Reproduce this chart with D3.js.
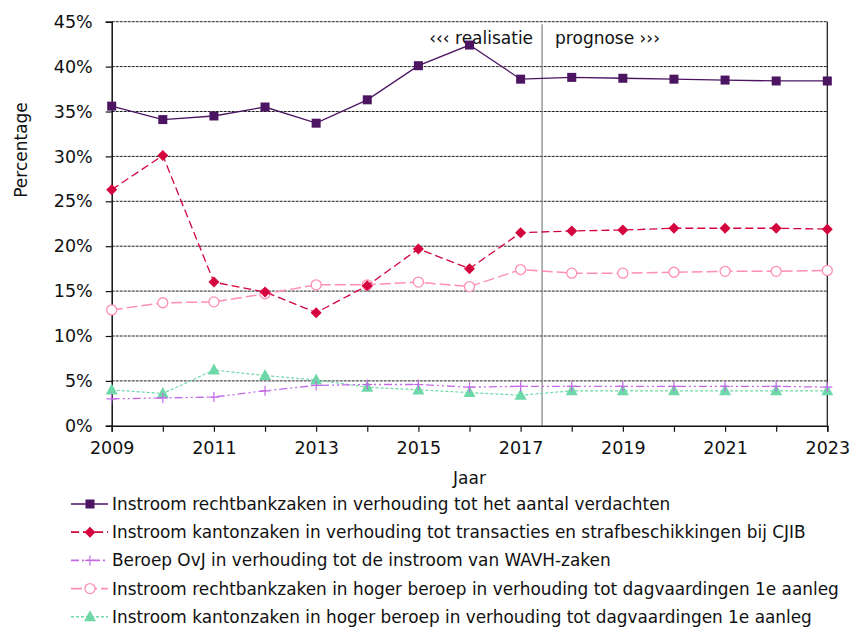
<!DOCTYPE html>
<html>
<head>
<meta charset="utf-8">
<script src="https://cdn.jsdelivr.net/npm/d3@7"></script>
<style>
  body { margin: 0; background: #fff; }
  svg { font-family: "DejaVu Sans", Verdana, sans-serif; }
</style>
</head>
<body>
<svg id="chart" width="852" height="629"></svg>
<script>
// data
const years = d3.range(2009, 2024);
const yTicks = [0, 5, 10, 15, 20, 25, 30, 35, 40, 45];
const xLabelYears = [2009, 2011, 2013, 2015, 2017, 2019, 2021, 2023];

const rechtbank = [35.6, 34.1, 34.5, 35.5, 33.7, 36.3, 40.1, 42.4, 38.6, 38.8, 38.7, 38.6, 38.5, 38.4, 38.4];
const kanton = [26.3, 30.1, 16.0, 14.9, 12.6, 15.6, 19.7, 17.5, 21.5, 21.7, 21.8, 22.0, 22.0, 22.0, 21.9];
const beroepOvj = [3.0, 3.1, 3.2, 3.9, 4.5, 4.6, 4.6, 4.3, 4.4, 4.4, 4.4, 4.4, 4.4, 4.4, 4.3];
const rbHoger = [12.9, 13.7, 13.8, 14.7, 15.7, 15.7, 16.0, 15.5, 17.4, 17.0, 17.0, 17.1, 17.2, 17.2, 17.3];
const ktHoger = [4.0, 3.6, 6.2, 5.6, 5.1, 4.3, 4.0, 3.7, 3.4, 3.9, 3.9, 3.9, 3.9, 3.9, 3.9];

const seriesNames = [
  'Instroom rechtbankzaken in verhouding tot het aantal verdachten',
  'Instroom kantonzaken in verhouding tot transacties en strafbeschikkingen bij CJIB',
  'Beroep OvJ in verhouding tot de instroom van WAVH-zaken',
  'Instroom rechtbankzaken in hoger beroep in verhouding tot dagvaardingen 1e aanleg',
  'Instroom kantonzaken in hoger beroep in verhouding tot dagvaardingen 1e aanleg'
];
const splitYear = 2017.42;

const series = [
  { name: seriesNames[0], values: rechtbank, color: '#4b1562', dash: null, width: 1.3, marker: 'square' },
  { name: seriesNames[1], values: kanton, color: '#d4043f', dash: '8,4', width: 1.3, marker: 'diamond' },
  { name: seriesNames[2], values: beroepOvj, color: '#c36ae6', dash: '8,3,2,3,2,3', width: 1.3, marker: 'plus' },
  { name: seriesNames[3], values: rbHoger, color: '#ff8fb2', dash: '11,4', width: 1.5, marker: 'circle' },
  { name: seriesNames[4], values: ktHoger, color: '#6fd8a9', dash: '3,2', width: 1.2, marker: 'triangle' }
];

const svg = d3.select('#chart');
const plotLeft = 111.7, plotRight = 827.3, plotTop = 21.7, plotBottom = 425.8;

const x = d3.scaleLinear().domain([2009, 2023]).range([plotLeft, plotRight]);
const y = d3.scaleLinear().domain([0, 45]).range([plotBottom, plotTop]);

// gridlines
svg.append('g')
  .selectAll('line')
  .data(yTicks.filter(d => d > 0))
  .join('line')
  .attr('x1', plotLeft).attr('x2', plotRight)
  .attr('y1', d => y(d)).attr('y2', d => y(d))
  .attr('stroke', '#222')
  .attr('stroke-width', 1)
  .attr('stroke-dasharray', '3,1');

// right frame line
svg.append('line')
  .attr('x1', plotRight).attr('x2', plotRight)
  .attr('y1', plotTop).attr('y2', plotBottom)
  .attr('stroke', '#111').attr('stroke-width', 1.2);

// split line realisatie / prognose
svg.append('line')
  .attr('x1', x(splitYear)).attr('x2', x(splitYear))
  .attr('y1', plotTop + 2.5).attr('y2', plotBottom)
  .attr('stroke', '#808080').attr('stroke-width', 1.2);

svg.append('text')
  .attr('x', x(splitYear) - 9).attr('y', 44)
  .attr('text-anchor', 'end')
  .attr('font-size', 17)
  .attr('fill', '#111')
  .text('\u2039\u2039\u2039 realisatie');

svg.append('text')
  .attr('x', x(splitYear) + 13).attr('y', 44)
  .attr('font-size', 17)
  .attr('fill', '#111')
  .text('prognose \u203a\u203a\u203a');

// axes
const yAxis = d3.axisLeft(y)
  .tickValues(yTicks)
  .tickFormat(d => d + '%')
  .tickSize(6)
  .tickPadding(13);

const gy = svg.append('g')
  .attr('transform', `translate(${plotLeft},0)`)
  .call(yAxis);

const xAxis = d3.axisBottom(x)
  .tickValues(years)
  .tickFormat(d => xLabelYears.includes(d) ? d : '')
  .tickSize(6)
  .tickPadding(10);

const gx = svg.append('g')
  .attr('transform', `translate(0,${plotBottom})`)
  .call(xAxis);

[gx, gy].forEach(g => {
  g.select('.domain').attr('stroke', '#111').attr('stroke-width', 1.5);
  g.selectAll('.tick line').attr('stroke', '#111').attr('stroke-width', 1.2);
  g.selectAll('.tick text')
    .attr('font-family', '"DejaVu Sans", Verdana, sans-serif')
    .attr('font-size', 17.5)
    .attr('fill', '#111');
});

svg.append('text')
  .attr('transform', 'translate(27,150) rotate(-90)')
  .attr('text-anchor', 'middle')
  .attr('font-size', 17)
  .attr('fill', '#111')
  .text('Percentage');

svg.append('text')
  .attr('x', (plotLeft + plotRight) / 2).attr('y', 484)
  .attr('text-anchor', 'middle')
  .attr('font-size', 17)
  .attr('fill', '#111')
  .text('Jaar');

// markers
function drawMarker(g, type, color) {
  if (type === 'square') {
    g.append('rect').attr('x', -4.5).attr('y', -4.5).attr('width', 9).attr('height', 9)
      .attr('fill', color);
  } else if (type === 'diamond') {
    g.append('path').attr('d', 'M0,-5.5L5.5,0L0,5.5L-5.5,0Z').attr('fill', color);
  } else if (type === 'plus') {
    g.append('path').attr('d', 'M-5,0H5M0,-5V5').attr('stroke', color).attr('stroke-width', 1.2).attr('fill', 'none');
  } else if (type === 'circle') {
    g.append('circle').attr('r', 5).attr('fill', '#fff').attr('stroke', color).attr('stroke-width', 1.3);
  } else if (type === 'triangle') {
    g.append('path').attr('d', 'M0,-6.5L6,4.5L-6,4.5Z').attr('fill', color);
  }
}

const line = d3.line()
  .x((d, i) => x(years[i]))
  .y(d => y(d));

const plot = svg.append('g');
series.slice().reverse().forEach(s => {
  const g = plot.append('g');
  g.append('path')
    .attr('d', line(s.values))
    .attr('fill', 'none')
    .attr('stroke', s.color)
    .attr('stroke-width', s.width)
    .attr('stroke-dasharray', s.dash);
  s.values.forEach((v, i) => {
    const m = g.append('g').attr('transform', `translate(${x(years[i])},${y(v)})`);
    drawMarker(m, s.marker, s.color);
  });
});

// legend
const legend = svg.append('g');
series.forEach((s, i) => {
  const row = legend.append('g').attr('transform', `translate(0,${504 + i * 28.2})`);
  row.append('line')
    .attr('x1', 71).attr('x2', 108)
    .attr('stroke', s.color)
    .attr('stroke-width', s.width + 0.4)
    .attr('stroke-dasharray', s.dash);
  const m = row.append('g').attr('transform', 'translate(90,0)');
  drawMarker(m, s.marker, s.color);
  row.append('text')
    .attr('x', 112).attr('y', 6)
    .attr('font-size', 16.9)
    .attr('fill', '#111')
    .text(s.name);
});
</script>
</body>
</html>
